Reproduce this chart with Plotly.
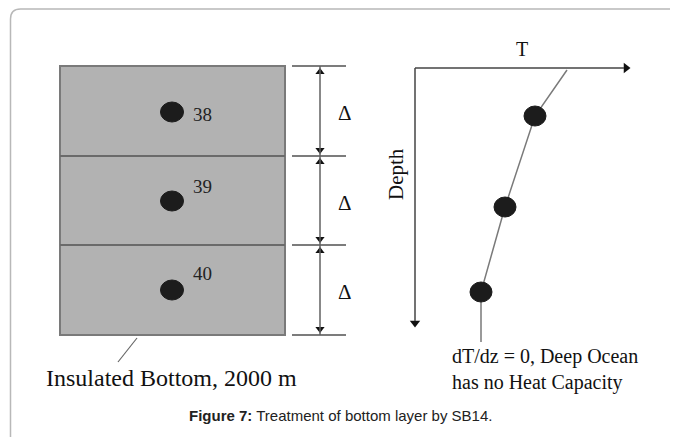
import plotly.graph_objects as go

# ---------------- data (diagram coordinates, page-pixel units) ----------------
layer_ids = ["38", "39", "40"]
layer_bounds = [66, 156, 245, 335]          # depth of layer interfaces
layer_dot_depth = [112, 201, 290]           # depth of layer node points
layer_label_depth = [114, 186, 273]
box_left, box_right = 60, 285
dot_x = 172
delta_labels = ["Δ", "Δ", "Δ"]

profile_T = [567, 535, 505, 481, 481]       # temperature profile (x)
profile_depth = [70, 116, 207, 292, 342]    # depth (y)
profile_nodes = [1, 2, 3]

axis_origin = (415, 68)
axis_T_end = 630
axis_depth_end = 327

serif = "Liberation Serif, Times New Roman, serif"
sans = "Liberation Sans, Arial, sans-serif"

fig = go.Figure()
shapes = []
annotations = []

# card border
shapes.append(dict(type="path", xref="x", yref="y",
                   path="M 10.5,450 L 10.5,19 Q 10.5,9 20.5,9 L 690,9",
                   line=dict(color="#b8b8b8", width=1.5)))

# gray layer box
shapes.append(dict(type="rect", x0=box_left, x1=box_right,
                   y0=layer_bounds[0], y1=layer_bounds[-1],
                   fillcolor="#b2b2b2", line=dict(color="#7a7a7a", width=2)))
for b in layer_bounds[1:-1]:
    shapes.append(dict(type="line", x0=box_left, x1=box_right, y0=b, y1=b,
                       line=dict(color="#6a6a6a", width=2)))

# layer nodes + labels
for lid, yd, yl in zip(layer_ids, layer_dot_depth, layer_label_depth):
    shapes.append(dict(type="circle", x0=dot_x - 11.5, x1=dot_x + 11.5,
                       y0=yd - 10, y1=yd + 10,
                       fillcolor="#1c1c1c", line=dict(color="#1c1c1c", width=1)))
    annotations.append(dict(x=191, y=yl, text=lid, showarrow=False,
                            xanchor="left", yanchor="middle",
                            font=dict(family=serif, size=19, color="#222")))

# dimension lines
dim_x = 320
for b in layer_bounds:
    shapes.append(dict(type="line", x0=292, x1=346, y0=b, y1=b,
                       line=dict(color="#505050", width=1.5)))
shapes.append(dict(type="line", x0=dim_x, x1=dim_x, y0=layer_bounds[0],
                   y1=layer_bounds[-1], line=dict(color="#606060", width=1.5)))
up_y = [b + 6 for b in layer_bounds[:-1]]
dn_y = [b - 6 for b in layer_bounds[1:]]
fig.add_trace(go.Scatter(x=[dim_x] * len(up_y), y=up_y, mode="markers",
                         marker=dict(symbol="triangle-up", size=8, color="#111"),
                         hoverinfo="skip", showlegend=False))
fig.add_trace(go.Scatter(x=[dim_x] * len(dn_y), y=dn_y, mode="markers",
                         marker=dict(symbol="triangle-down", size=8, color="#111"),
                         hoverinfo="skip", showlegend=False))
for lab, y0, y1 in zip(delta_labels, layer_bounds[:-1], layer_bounds[1:]):
    annotations.append(dict(x=345, y=(y0 + y1) / 2 + 2, text=lab, showarrow=False,
                            xanchor="center", yanchor="middle",
                            font=dict(family=serif, size=21, color="#111")))

# leader line + insulated bottom label
shapes.append(dict(type="line", x0=137, x1=118, y0=338, y1=362,
                   line=dict(color="#666", width=1.2)))
annotations.append(dict(x=171, y=378, text="Insulated Bottom, 2000 m",
                        showarrow=False, xanchor="center", yanchor="middle",
                        font=dict(family=serif, size=24, color="#111")))

# T-depth axes
ox, oy = axis_origin
shapes.append(dict(type="line", x0=ox, x1=axis_T_end - 6, y0=oy, y1=oy,
                   line=dict(color="#444", width=1.5)))
shapes.append(dict(type="line", x0=ox, x1=ox, y0=oy, y1=axis_depth_end - 6,
                   line=dict(color="#444", width=1.5)))
fig.add_trace(go.Scatter(x=[axis_T_end - 4], y=[oy], mode="markers",
                         marker=dict(symbol="triangle-right", size=9, color="#111"),
                         hoverinfo="skip", showlegend=False))
fig.add_trace(go.Scatter(x=[ox], y=[axis_depth_end - 4], mode="markers",
                         marker=dict(symbol="triangle-down", size=9, color="#111"),
                         hoverinfo="skip", showlegend=False))
annotations.append(dict(x=522, y=49, text="T", showarrow=False,
                        font=dict(family=serif, size=20, color="#111")))
annotations.append(dict(x=396, y=174, text="Depth", showarrow=False, textangle=-90,
                        font=dict(family=serif, size=21, color="#111")))

# profile
fig.add_trace(go.Scatter(x=profile_T, y=profile_depth, mode="lines",
                         line=dict(color="#7a7a7a", width=1.5),
                         hoverinfo="skip", showlegend=False))
for i in profile_nodes:
    xc, yc = profile_T[i], profile_depth[i]
    shapes.append(dict(type="circle", x0=xc - 11, x1=xc + 11, y0=yc - 10, y1=yc + 10,
                       fillcolor="#1c1c1c", line=dict(color="#1c1c1c", width=1)))

annotations.append(dict(x=450, y=369, text="dT/dz = 0, Deep Ocean<br>has no Heat Capacity",
                        showarrow=False, xanchor="left", yanchor="middle", align="left",
                        font=dict(family=serif, size=20, color="#111")))

# caption
annotations.append(dict(x=340, y=415,
                        text="<b>Figure 7:</b> Treatment of bottom layer by SB14.",
                        showarrow=False, xanchor="center", yanchor="middle",
                        font=dict(family=sans, size=15, color="#222")))

# body has an 8px default margin in the page, so shift the ranges by 8
fig.update_layout(
    width=678, height=437, margin=dict(l=0, r=0, t=0, b=0),
    paper_bgcolor="white", plot_bgcolor="white",
    xaxis=dict(range=[8, 686], visible=False, fixedrange=True),
    yaxis=dict(range=[445, 8], visible=False, fixedrange=True),
    shapes=shapes, annotations=annotations, showlegend=False,
)
fig.write_html("out.html")
